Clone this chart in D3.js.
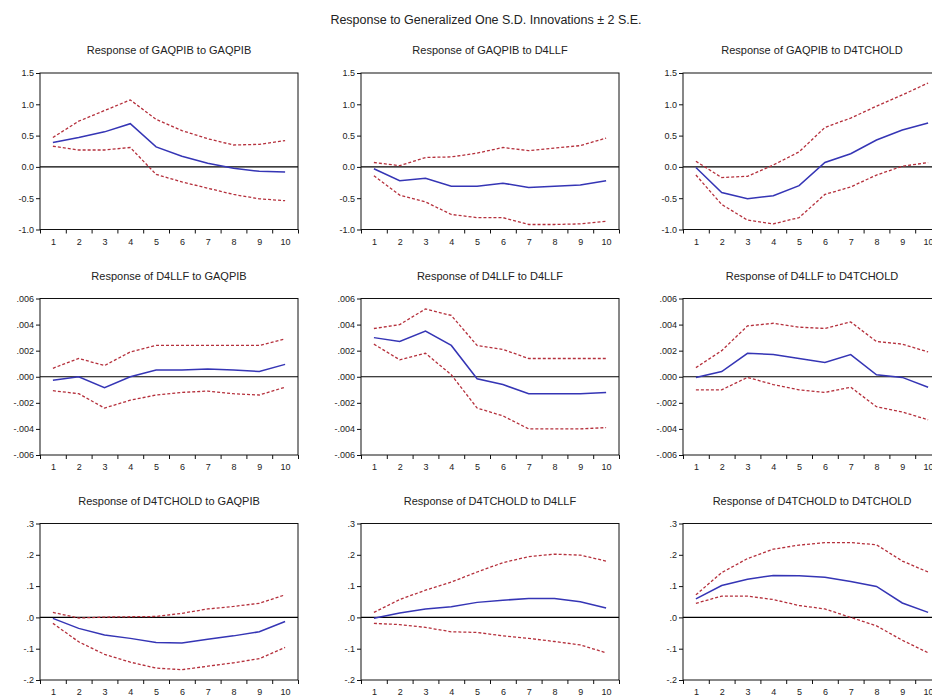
<!DOCTYPE html>
<html>
<head>
<meta charset="utf-8">
<script src="https://cdn.jsdelivr.net/npm/d3@7"></script>
<style>
  html, body { margin: 0; padding: 0; background: #fff; }
  svg { display: block; font-family: "Liberation Sans", Arial, sans-serif; }
</style>
</head>
<body>
<svg id="chart" width="932" height="695"></svg>
<script>
// ---------- data ----------
const mainTitle = "Response to Generalized One S.D. Innovations \u00b1 2 S.E.";
const periods = [1, 2, 3, 4, 5, 6, 7, 8, 9, 10];
const periodLabels = ["1", "2", "3", "4", "5", "6", "7", "8", "9", "10"];
const variables = ["GAQPIB", "D4LLF", "D4TCHOLD"];

// y axes per responding variable (row)
const yDomainGAQPIB = [-1.0, 1.5];
const yTicksGAQPIB = [-1.0, -0.5, 0.0, 0.5, 1.0, 1.5];
const yTickLabelsGAQPIB = ["-1.0", "-0.5", "0.0", "0.5", "1.0", "1.5"];
const yDomainD4LLF = [-0.006, 0.006];
const yTicksD4LLF = [-0.006, -0.004, -0.002, 0.0, 0.002, 0.004, 0.006];
const yTickLabelsD4LLF = ["-.006", "-.004", "-.002", ".000", ".002", ".004", ".006"];
const yDomainD4TCHOLD = [-0.2, 0.3];
const yTicksD4TCHOLD = [-0.2, -0.1, 0.0, 0.1, 0.2, 0.3];
const yTickLabelsD4TCHOLD = ["-.2", "-.1", ".0", ".1", ".2", ".3"];

// Response of GAQPIB
const gaqpibToGaqpib      = [0.39, 0.47, 0.56, 0.69, 0.32, 0.17, 0.06, -0.02, -0.07, -0.08];
const gaqpibToGaqpibUp    = [0.47, 0.73, 0.90, 1.07, 0.76, 0.58, 0.45, 0.35, 0.36, 0.42];
const gaqpibToGaqpibLo    = [0.33, 0.27, 0.27, 0.31, -0.12, -0.24, -0.34, -0.44, -0.51, -0.54];
const gaqpibToD4llf       = [-0.03, -0.22, -0.18, -0.31, -0.31, -0.26, -0.33, -0.31, -0.29, -0.22];
const gaqpibToD4llfUp     = [0.07, 0.02, 0.15, 0.16, 0.22, 0.31, 0.26, 0.30, 0.34, 0.46];
const gaqpibToD4llfLo     = [-0.14, -0.45, -0.56, -0.76, -0.81, -0.81, -0.92, -0.92, -0.91, -0.87];
const gaqpibToD4tchold    = [-0.01, -0.41, -0.51, -0.46, -0.30, 0.07, 0.21, 0.43, 0.59, 0.70];
const gaqpibToD4tcholdUp  = [0.09, -0.17, -0.15, 0.03, 0.24, 0.63, 0.78, 0.97, 1.15, 1.34];
const gaqpibToD4tcholdLo  = [-0.13, -0.60, -0.85, -0.91, -0.81, -0.44, -0.32, -0.13, 0.01, 0.07];

// Response of D4LLF
const d4llfToGaqpib       = [-0.00026, 0.0000, -0.00083, 0.0000, 0.00052, 0.00052, 0.0006, 0.00052, 0.0004, 0.00095];
const d4llfToGaqpibUp     = [0.00065, 0.0014, 0.00086, 0.0019, 0.0024, 0.0024, 0.0024, 0.0024, 0.0024, 0.0029];
const d4llfToGaqpibLo     = [-0.00107, -0.0013, -0.0024, -0.0018, -0.0014, -0.0012, -0.0011, -0.0013, -0.0014, -0.0008];
const d4llfToD4llf        = [0.0030, 0.0027, 0.0035, 0.0024, -0.00015, -0.0006, -0.0013, -0.0013, -0.0013, -0.0012];
const d4llfToD4llfUp      = [0.0037, 0.0040, 0.0052, 0.0047, 0.0024, 0.0021, 0.0014, 0.0014, 0.0014, 0.0014];
const d4llfToD4llfLo      = [0.0025, 0.0013, 0.0018, 0.00015, -0.0024, -0.0030, -0.0040, -0.0040, -0.0040, -0.0039];
const d4llfToD4tchold     = [-0.00005, 0.0004, 0.0018, 0.0017, 0.0014, 0.0011, 0.0017, 0.00015, -0.00005, -0.0008];
const d4llfToD4tcholdUp   = [0.0007, 0.0020, 0.0039, 0.0041, 0.0038, 0.0037, 0.0042, 0.0027, 0.0025, 0.0019];
const d4llfToD4tcholdLo   = [-0.0010, -0.0010, -0.00005, -0.0006, -0.0010, -0.0012, -0.0008, -0.0023, -0.0027, -0.0033];

// Response of D4TCHOLD
const d4tcholdToGaqpib      = [-0.003, -0.035, -0.056, -0.067, -0.080, -0.082, -0.070, -0.059, -0.046, -0.013];
const d4tcholdToGaqpibUp    = [0.016, -0.002, 0.001, 0.002, 0.003, 0.013, 0.027, 0.035, 0.045, 0.072];
const d4tcholdToGaqpibLo    = [-0.019, -0.078, -0.118, -0.143, -0.162, -0.167, -0.156, -0.145, -0.132, -0.096];
const d4tcholdToD4llf       = [-0.003, 0.014, 0.027, 0.034, 0.048, 0.055, 0.060, 0.060, 0.050, 0.030];
const d4tcholdToD4llfUp     = [0.016, 0.057, 0.087, 0.113, 0.145, 0.175, 0.194, 0.202, 0.199, 0.180];
const d4tcholdToD4llfLo     = [-0.019, -0.023, -0.032, -0.046, -0.048, -0.059, -0.067, -0.077, -0.088, -0.113];
const d4tcholdToD4tchold    = [0.059, 0.102, 0.122, 0.134, 0.133, 0.128, 0.115, 0.099, 0.046, 0.016];
const d4tcholdToD4tcholdUp  = [0.072, 0.143, 0.188, 0.218, 0.231, 0.239, 0.239, 0.232, 0.180, 0.145];
const d4tcholdToD4tcholdLo  = [0.045, 0.068, 0.068, 0.057, 0.038, 0.027, 0.000, -0.027, -0.073, -0.113];

// ---------- assemble ----------
const rowsAxes = [
  { domain: yDomainGAQPIB, ticks: yTicksGAQPIB, labels: yTickLabelsGAQPIB },
  { domain: yDomainD4LLF, ticks: yTicksD4LLF, labels: yTickLabelsD4LLF },
  { domain: yDomainD4TCHOLD, ticks: yTicksD4TCHOLD, labels: yTickLabelsD4TCHOLD }
];
const panelSeries = [
  [[gaqpibToGaqpib, gaqpibToGaqpibUp, gaqpibToGaqpibLo],
   [gaqpibToD4llf, gaqpibToD4llfUp, gaqpibToD4llfLo],
   [gaqpibToD4tchold, gaqpibToD4tcholdUp, gaqpibToD4tcholdLo]],
  [[d4llfToGaqpib, d4llfToGaqpibUp, d4llfToGaqpibLo],
   [d4llfToD4llf, d4llfToD4llfUp, d4llfToD4llfLo],
   [d4llfToD4tchold, d4llfToD4tcholdUp, d4llfToD4tcholdLo]],
  [[d4tcholdToGaqpib, d4tcholdToGaqpibUp, d4tcholdToGaqpibLo],
   [d4tcholdToD4llf, d4tcholdToD4llfUp, d4tcholdToD4llfLo],
   [d4tcholdToD4tchold, d4tcholdToD4tcholdUp, d4tcholdToD4tcholdLo]]
];

// ---------- layout ----------
const colLeft = [40, 361, 683];
const rowTop = [73, 298.5, 523.5];
const pw = 258, ph = 156.5;
const blue = "#3535b5";
const red = "#b5303c";

const svg = d3.select("#chart");

svg.append("text")
  .attr("x", 486).attr("y", 24)
  .attr("text-anchor", "middle")
  .attr("font-size", 12.5)
  .attr("fill", "#222")
  .text(mainTitle);

for (let r = 0; r < 3; r++) {
  for (let c = 0; c < 3; c++) {
    const g = svg.append("g").attr("transform", `translate(${colLeft[c]},${rowTop[r]})`);
    const x = d3.scaleLinear().domain([0.5, 10.5]).range([0, pw]);
    const y = d3.scaleLinear().domain(rowsAxes[r].domain).range([ph, 0]);

    g.append("text")
      .attr("x", pw / 2).attr("y", -19)
      .attr("text-anchor", "middle")
      .attr("font-size", 11)
      .attr("fill", "#222")
      .text(`Response of ${variables[r]} to ${variables[c]}`);

    // x ticks at period boundaries
    const xTickAxis = d3.axisBottom(x)
      .tickValues(d3.range(0.5, 11, 1))
      .tickSize(4).tickSizeOuter(0).tickFormat("");
    const gx = g.append("g").attr("transform", `translate(0,${ph})`).call(xTickAxis);
    gx.select(".domain").remove();
    gx.selectAll("line").attr("stroke", "#111");

    // x labels at period centers
    const xLabAxis = d3.axisBottom(x)
      .tickValues(periods)
      .tickSize(0).tickPadding(9)
      .tickFormat((d, i) => periodLabels[i]);
    const gxl = g.append("g").attr("transform", `translate(0,${ph})`).call(xLabAxis);
    gxl.select(".domain").remove();
    gxl.selectAll("text").attr("font-size", 9).attr("fill", "#222")
      .attr("font-family", "Liberation Sans, Arial, sans-serif");

    // y axis
    const yAxis = d3.axisLeft(y)
      .tickValues(rowsAxes[r].ticks)
      .tickSize(4).tickSizeOuter(0).tickPadding(2)
      .tickFormat((d, i) => rowsAxes[r].labels[i]);
    const gy = g.append("g").call(yAxis);
    gy.select(".domain").remove();
    gy.selectAll("line").attr("stroke", "#111");
    gy.selectAll("text").attr("font-size", 9).attr("fill", "#222")
      .attr("font-family", "Liberation Sans, Arial, sans-serif");

    // zero line
    g.append("line")
      .attr("x1", 0).attr("x2", pw)
      .attr("y1", y(0)).attr("y2", y(0))
      .attr("stroke", "#000").attr("stroke-width", 1.2);

    const line = d3.line().x((d, i) => x(periods[i])).y(d => y(d));
    const [mid, up, lo] = panelSeries[r][c];

    g.append("path").datum(up).attr("d", line)
      .attr("fill", "none").attr("stroke", red)
      .attr("stroke-width", 1.3).attr("stroke-dasharray", "3,2");
    g.append("path").datum(lo).attr("d", line)
      .attr("fill", "none").attr("stroke", red)
      .attr("stroke-width", 1.3).attr("stroke-dasharray", "3,2");
    g.append("path").datum(mid).attr("d", line)
      .attr("fill", "none").attr("stroke", blue)
      .attr("stroke-width", 1.5);

    // frame
    g.append("rect")
      .attr("x", 0).attr("y", 0).attr("width", pw).attr("height", ph)
      .attr("fill", "none").attr("stroke", "#111").attr("stroke-width", 1);
  }
}
</script>
</body>
</html>
